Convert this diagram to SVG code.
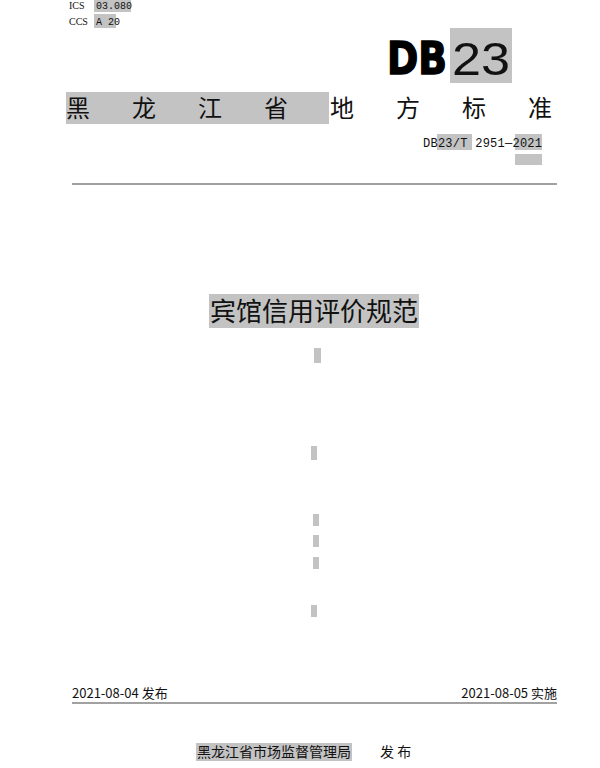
<svg xmlns="http://www.w3.org/2000/svg" width="600" height="768" viewBox="0 0 600 768">
<style>
.hl{fill:#c3c3c3}
.cjk{font-family:"Noto Sans CJK SC","DejaVu Sans",sans-serif;fill:#111}
.mono{font-family:"Liberation Mono","DejaVu Sans Mono",monospace;fill:#111}
.ser{font-family:"Liberation Serif",serif;fill:#111}
</style>
<rect width="600" height="768" fill="#fff"/>
<g id="header">
<rect class="hl" x="94" y="0" width="37" height="12"/>
<rect class="hl" x="94" y="14" width="22" height="14"/>
<text class="ser" x="69" y="9" font-size="10">ICS</text>
<text class="mono" x="96" y="9" font-size="10">03.080</text>
<text class="ser" x="69" y="25" font-size="10">CCS</text>
<text class="mono" x="96" y="25" font-size="10">A 20</text>
</g>
<g id="logo">
<rect class="hl" x="450" y="28" width="62" height="55"/>
<text x="387" y="74" font-family="'DejaVu Sans',sans-serif" font-weight="900" font-size="44" fill="#000" textLength="60" lengthAdjust="spacingAndGlyphs" stroke="#000" stroke-width="1.5">DB</text>
<text x="452" y="75" font-family="'Liberation Sans',sans-serif" font-size="46" fill="#111" textLength="58" lengthAdjust="spacingAndGlyphs">23</text>
</g>
<g id="title-row">
<rect class="hl" x="66" y="92" width="263" height="32"/>
<text class="cjk" y="117" font-size="24"><tspan x="66">黑</tspan><tspan x="132">龙</tspan><tspan x="198">江</tspan><tspan x="264">省</tspan><tspan x="330">地</tspan><tspan x="396">方</tspan><tspan x="462">标</tspan><tspan x="528">准</tspan></text>
</g>
<g id="code">
<rect class="hl" x="437" y="134" width="35" height="16"/>
<rect class="hl" x="515" y="134" width="27" height="16"/>
<rect class="hl" x="515" y="154" width="27" height="11"/>
<text class="mono" x="423" y="147" font-size="12" textLength="119">DB23/T 2951—2021</text>
</g>
<line x1="72" y1="184" x2="557" y2="184" stroke="#444" stroke-width="1.2"/>
<g id="doc-title">
<rect class="hl" x="209" y="294" width="210" height="34"/>
<text class="cjk" x="210" y="321" font-size="26" textLength="208">宾馆信用评价规范</text>
</g>
<g id="marks">
<rect class="hl" x="314" y="348" width="7" height="15"/>
<rect class="hl" x="311" y="446" width="6" height="14"/>
<rect class="hl" x="313" y="514" width="6" height="12"/>
<rect class="hl" x="313" y="535" width="6" height="12"/>
<rect class="hl" x="313" y="557" width="6" height="12"/>
<rect class="hl" x="311" y="605" width="6" height="12"/>
</g>
<g id="dates">
<text class="cjk" x="72" y="698" font-size="13">2021-08-04 发布</text>
<text class="cjk" x="557" y="698" font-size="13" text-anchor="end">2021-08-05 实施</text>
<line x1="72" y1="703" x2="557" y2="703" stroke="#444" stroke-width="1.2"/>
</g>
<g id="publisher">
<rect class="hl" x="196" y="743" width="156" height="18"/>
<text class="cjk" x="197" y="757" font-size="14" textLength="154">黑龙江省市场监督管理局</text>
<text class="cjk" x="380" y="757" font-size="14">发 布</text>
</g>
</svg>
